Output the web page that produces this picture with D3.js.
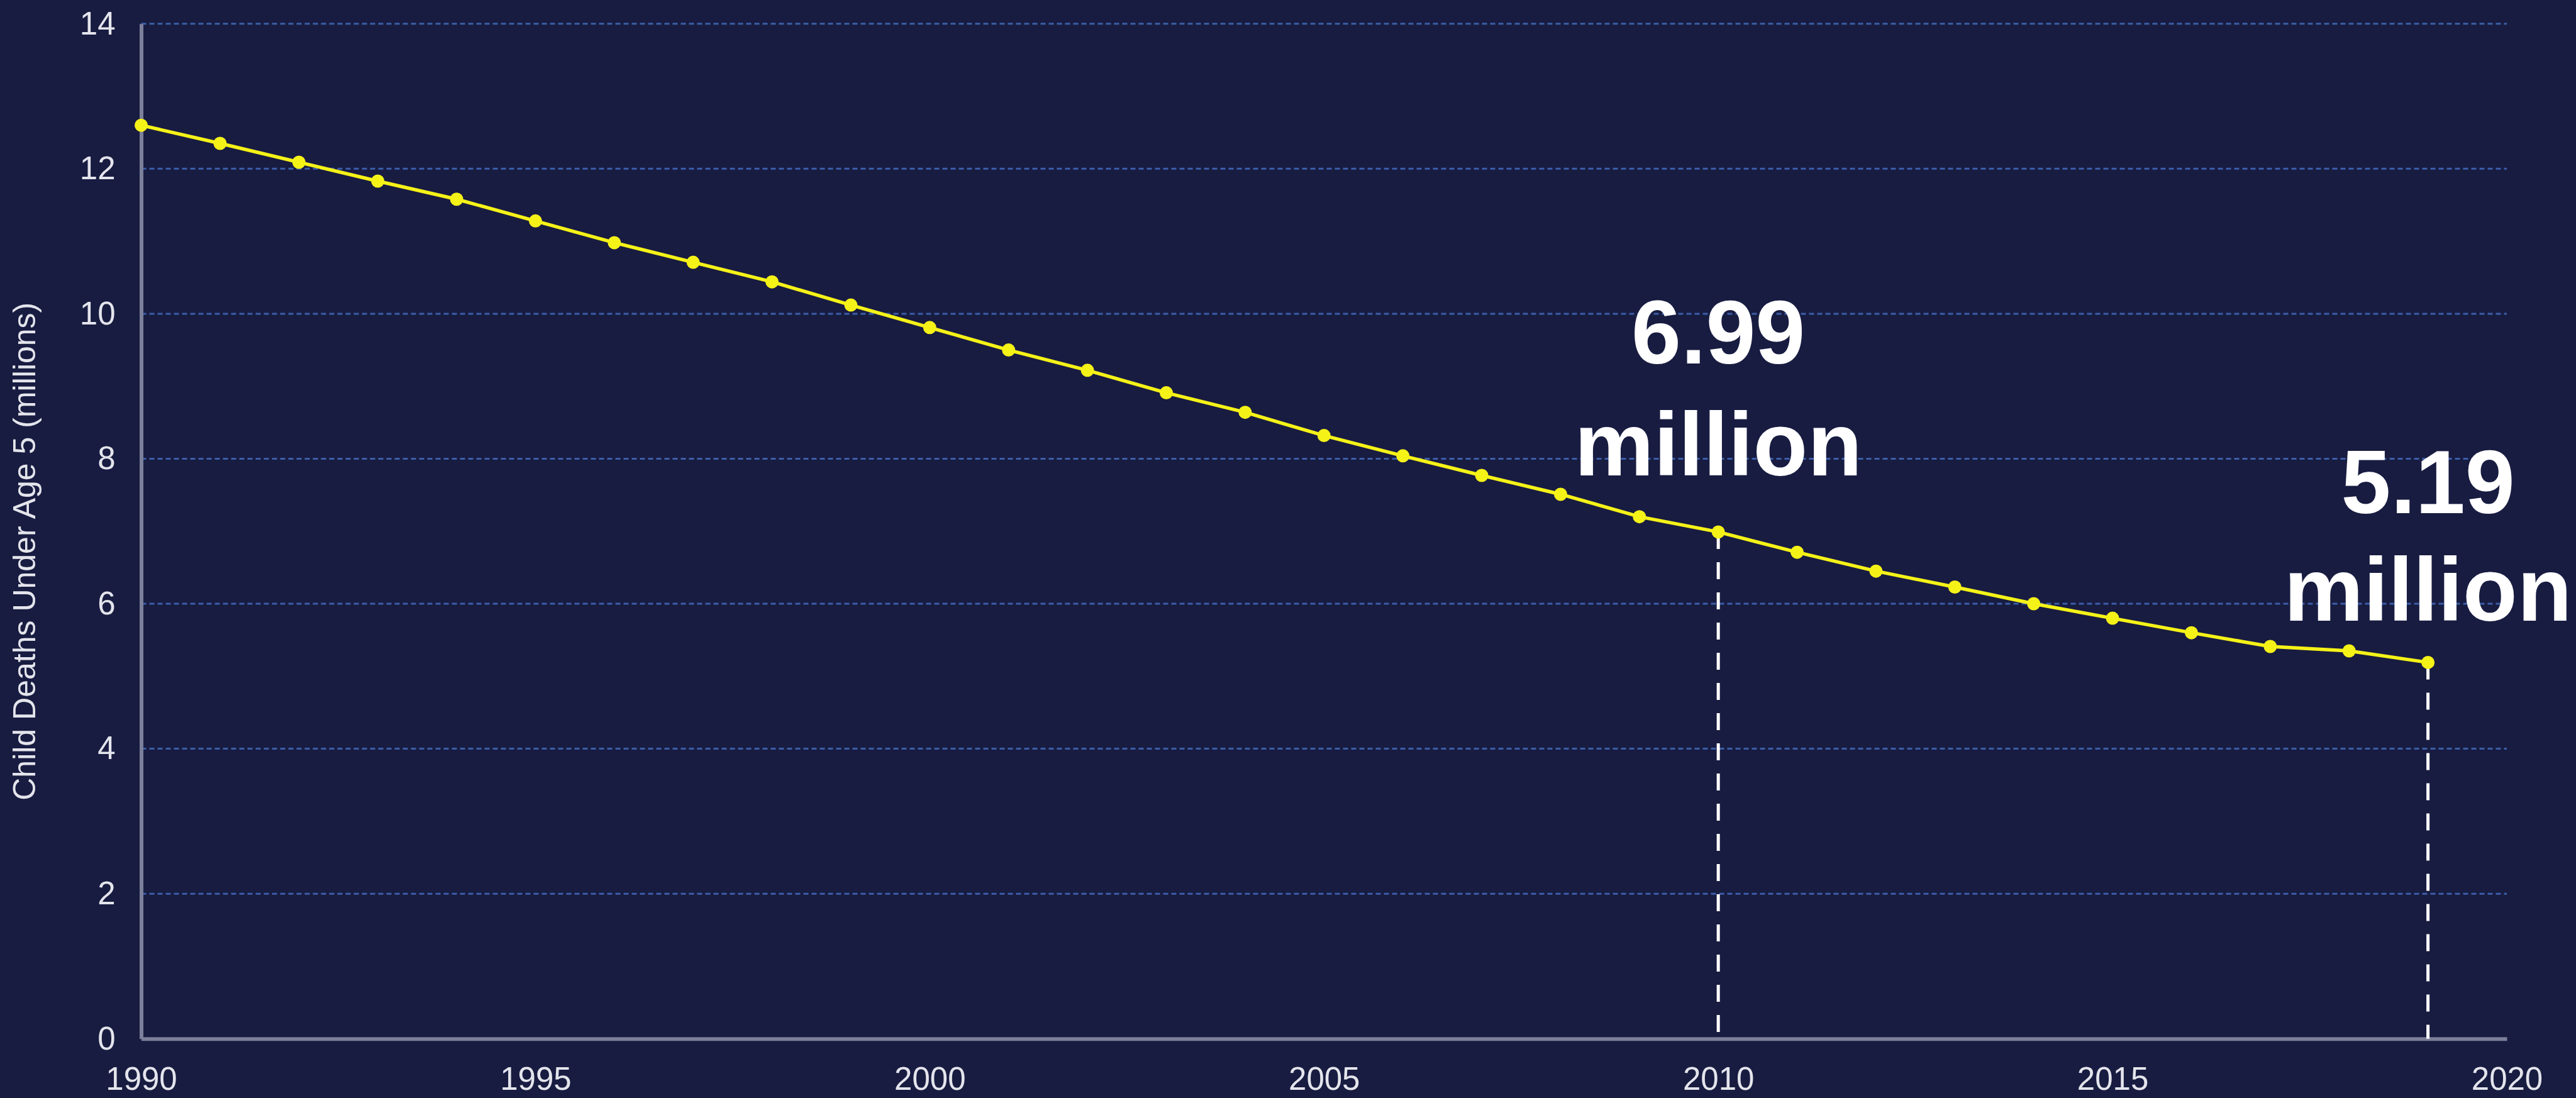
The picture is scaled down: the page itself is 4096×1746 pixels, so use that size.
<!DOCTYPE html>
<html>
<head>
<meta charset="utf-8">
<script src="https://cdn.jsdelivr.net/npm/d3@7"></script>
<style>
  html, body { margin: 0; padding: 0; background: #181c41; }
  svg { display: block; }
</style>
</head>
<body>
<svg id="chart"></svg>
<script>
// years and under-5 deaths (millions)
const years = [1990, 1991, 1992, 1993, 1994, 1995, 1996, 1997, 1998, 1999,
               2000, 2001, 2002, 2003, 2004, 2005, 2006, 2007, 2008, 2009,
               2010, 2011, 2012, 2013, 2014, 2015, 2016, 2017, 2018, 2019]
const deaths = [12.6, 12.35, 12.09, 11.83, 11.58, 11.28, 10.98, 10.71, 10.44, 10.12,
                9.81, 9.5, 9.22, 8.91, 8.64, 8.32, 8.04, 7.77, 7.51, 7.2,
                6.99, 6.71, 6.45, 6.23, 6.0, 5.8, 5.6, 5.41, 5.35, 5.19]

const xTicks = [1990, 1995, 2000, 2005, 2010, 2015, 2020]
const yTicks = [0, 2, 4, 6, 8, 10, 12, 14]

// callouts: year, text lines and where (in data units) their baselines sit
const calloutYears = [2010, 2019]
const calloutLines = [["6.99", "million"], ["5.19", "million"]]
const calloutBase = [[9.31, 7.77], [7.25, 5.77]]

const yLabel = "Child Deaths Under Age 5 (millions)"

const width = 4096
const height = 1746
const margin = {left: 224.5, right: 110, top: 37.8, bottom: 94.3}

const svg = d3.select("#chart")
    .attr("width", width)
    .attr("height", height)

svg.append("rect")
    .attr("width", width)
    .attr("height", height)
    .attr("fill", "#181c41")

const x = d3.scaleLinear()
    .domain([1990, 2020])
    .range([margin.left, width - margin.right])

const y = d3.scaleLinear()
    .domain([0, 14])
    .range([height - margin.bottom, margin.top])

const font = "'Liberation Sans', Arial, Helvetica, sans-serif"

// dashed grid
svg.append("g")
    .selectAll("line")
    .data(yTicks.filter(d => d > 0))
    .enter()
    .append("line")
    .attr("x1", x(1990))
    .attr("x2", x(2020))
    .attr("y1", d => y(d))
    .attr("y2", d => y(d))
    .attr("stroke", "#3b5ea8")
    .attr("stroke-width", 3)
    .attr("stroke-dasharray", "8 5")

// axes
const xAxis = svg.append("g")
    .attr("transform", `translate(0,${y(0)})`)
    .call(d3.axisBottom(x).tickValues(xTicks).tickFormat(d3.format("d")).tickSize(0).tickPadding(45))

const yAxis = svg.append("g")
    .attr("transform", `translate(${x(1990)},0)`)
    .call(d3.axisLeft(y).tickValues(yTicks).tickSize(0).tickPadding(41))

for (const ax of [xAxis, yAxis]) {
    ax.select(".domain")
        .attr("stroke", "#7b7f9a")
        .attr("stroke-width", 6)
    ax.selectAll("text")
        .attr("fill", "#e4e5ec")
        .style("font-family", font)
        .style("font-size", "51px")
}

svg.append("text")
    .attr("transform", `translate(39,${(y(0) + y(14)) / 2 + 32}) rotate(-90)`)
    .attr("text-anchor", "middle")
    .attr("dominant-baseline", "central")
    .attr("fill", "#e4e5ec")
    .style("font-family", font)
    .style("font-size", "50px")
    .text(yLabel)

// dashed drop lines under the callouts
svg.append("g")
    .selectAll("line")
    .data(calloutYears)
    .enter()
    .append("line")
    .attr("x1", d => x(d))
    .attr("x2", d => x(d))
    .attr("y1", d => y(deaths[years.indexOf(d)]))
    .attr("y2", y(0))
    .attr("stroke", "#ffffff")
    .attr("stroke-width", 5)
    .attr("stroke-dasharray", "27 21")

// the line and its points
const line = d3.line()
    .x((d, i) => x(years[i]))
    .y(d => y(d))

svg.append("path")
    .datum(deaths)
    .attr("d", line)
    .attr("fill", "none")
    .attr("stroke", "#f5f218")
    .attr("stroke-width", 5.5)

svg.append("g")
    .selectAll("circle")
    .data(deaths)
    .enter()
    .append("circle")
    .attr("cx", (d, i) => x(years[i]))
    .attr("cy", d => y(d))
    .attr("r", 10.5)
    .attr("fill", "#f5f218")

// callout text
calloutYears.forEach((yr, k) => {
    calloutLines[k].forEach((t, j) => {
        svg.append("text")
            .attr("x", x(yr))
            .attr("y", y(calloutBase[k][j]))
            .attr("text-anchor", "middle")
            .attr("fill", "#ffffff")
            .style("font-family", font)
            .style("font-weight", "bold")
            .style("font-size", "142px")
            .text(t)
    })
})
</script>
</body>
</html>
